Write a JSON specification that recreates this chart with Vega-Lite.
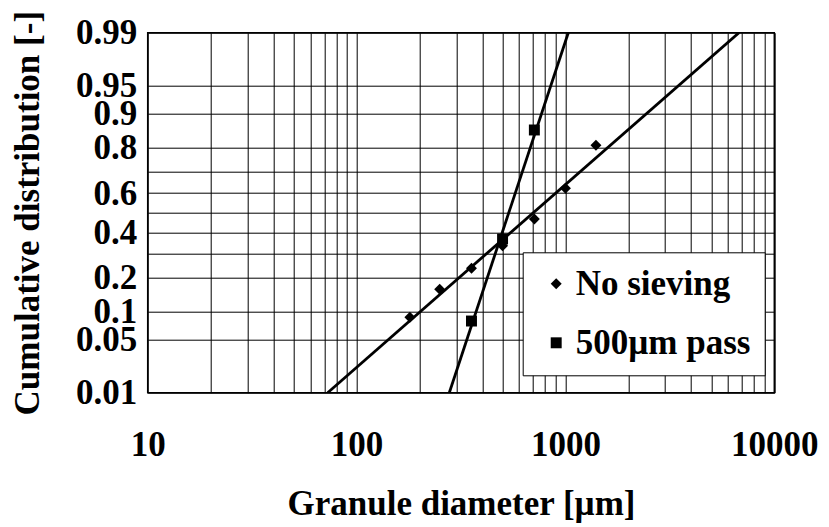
{
  "$schema": "https://vega.github.io/schema/vega-lite/v6.json",
  "width": 626.6,
  "height": 360,
  "autosize": {"type": "none"},
  "padding": {"left": 147.7, "top": 32.7, "right": 54.7, "bottom": 134.3},
  "background": "white",
  "config": {
    "font": "Liberation Serif",
    "view": {"stroke": "black", "strokeWidth": 1.5},
    "axis": {
      "labelFont": "Liberation Serif",
      "labelFontSize": 35,
      "labelFontWeight": "bold",
      "labelColor": "black",
      "titleFont": "Liberation Serif",
      "titleFontSize": 35,
      "titleFontWeight": "bold",
      "titleColor": "black",
      "grid": true,
      "gridColor": "black",
      "gridOpacity": 1,
      "gridWidth": 1,
      "ticks": false,
      "tickSize": 0,
      "domain": false,
      "labelFlush": false,
      "labelOverlap": false,
      "labelBound": false
    },
    "legend": {
      "labelFont": "Liberation Serif",
      "labelFontSize": 35,
      "labelFontWeight": "bold",
      "labelColor": "black"
    }
  },
  "datasets": {
    "points": [
      {"series": "No sieving", "diameter": 180, "probit": -1.352},
      {"series": "No sieving", "diameter": 250, "probit": -0.990},
      {"series": "No sieving", "diameter": 355, "probit": -0.719},
      {"series": "No sieving", "diameter": 500, "probit": -0.426},
      {"series": "No sieving", "diameter": 710, "probit": -0.081},
      {"series": "No sieving", "diameter": 1000, "probit": 0.315},
      {"series": "No sieving", "diameter": 1400, "probit": 0.871},
      {"series": "500µm pass", "diameter": 355, "probit": -1.400},
      {"series": "500µm pass", "diameter": 500, "probit": -0.340},
      {"series": "500µm pass", "diameter": 710, "probit": 1.069}
    ],
    "fits": [
      {"series": "No sieving", "diameter": 72.7, "probit": -2.3263},
      {"series": "No sieving", "diameter": 6776, "probit": 2.3263},
      {"series": "500µm pass", "diameter": 278, "probit": -2.3263},
      {"series": "500µm pass", "diameter": 1032, "probit": 2.3263}
    ]
  },
  "encoding": {
    "x": {
      "field": "diameter",
      "type": "quantitative",
      "scale": {"type": "log", "domain": [10, 10000], "nice": false},
      "axis": {
        "title": "Granule diameter [µm]",
        "values": [10, 20, 30, 40, 50, 60, 70, 80, 90, 100, 200, 300, 400, 500, 600, 700, 800, 900, 1000, 2000, 3000, 4000, 5000, 6000, 7000, 8000, 9000, 10000],
        "format": "d",
        "labelExpr": "datum.value == 10 || datum.value == 100 || datum.value == 1000 || datum.value == 10000 ? datum.label : ''",
        "labelPadding": 63,
        "labelBaseline": "alphabetic",
        "titleX": 313.3,
        "titleY": 122,
        "titleBaseline": "alphabetic",
        "titleAlign": "center"
      }
    },
    "y": {
      "field": "probit",
      "type": "quantitative",
      "scale": {"domain": [-2.3263, 2.3263], "nice": false, "zero": false},
      "axis": {
        "title": "Cumulative distribution [-]",
        "values": [-2.3263, -1.6449, -1.2816, -0.8416, -0.5244, -0.2533, 0, 0.2533, 0.5244, 0.8416, 1.2816, 1.6449, 2.3263],
        "labelExpr": "datum.value < -2 ? '0.01' : datum.value < -1.5 ? '0.05' : datum.value < -1 ? '0.1' : datum.value < -0.7 ? '0.2' : datum.value < -0.4 ? '' : datum.value < -0.1 ? '0.4' : datum.value < 0.1 ? '' : datum.value < 0.4 ? '0.6' : datum.value < 0.7 ? '' : datum.value < 1 ? '0.8' : datum.value < 1.5 ? '0.9' : datum.value < 2 ? '0.95' : '0.99'",
        "labelPadding": 11,
        "labelBaseline": "middle",
        "titleX": -120,
        "titleY": 180,
        "titleAngle": -90,
        "titleBaseline": "middle",
        "titleAlign": "center"
      }
    }
  },
  "layer": [
    {
      "data": {"name": "fits"},
      "mark": {"type": "line", "color": "black", "strokeWidth": 2.8, "clip": true},
      "encoding": {"detail": {"field": "series", "type": "nominal"}}
    },
    {
      "data": {"name": "points"},
      "mark": {"type": "point", "filled": true, "color": "black", "opacity": 1, "size": 120},
      "encoding": {
        "shape": {
          "field": "series",
          "type": "nominal",
          "scale": {"domain": ["No sieving", "500µm pass"], "range": ["diamond", "square"]},
          "legend": {
            "title": null,
            "orient": "none",
            "legendX": 375,
            "legendY": 219.6,
            "fillColor": "white",
            "strokeColor": "black",
            "padding": 14,
            "symbolOffset": 2,
            "labelOffset": 2,
            "rowPadding": 23,
            "symbolSize": 120,
            "symbolFillColor": "black",
            "symbolStrokeColor": "black",
            "labelLimit": 400
          }
        }
      }
    }
  ]
}
